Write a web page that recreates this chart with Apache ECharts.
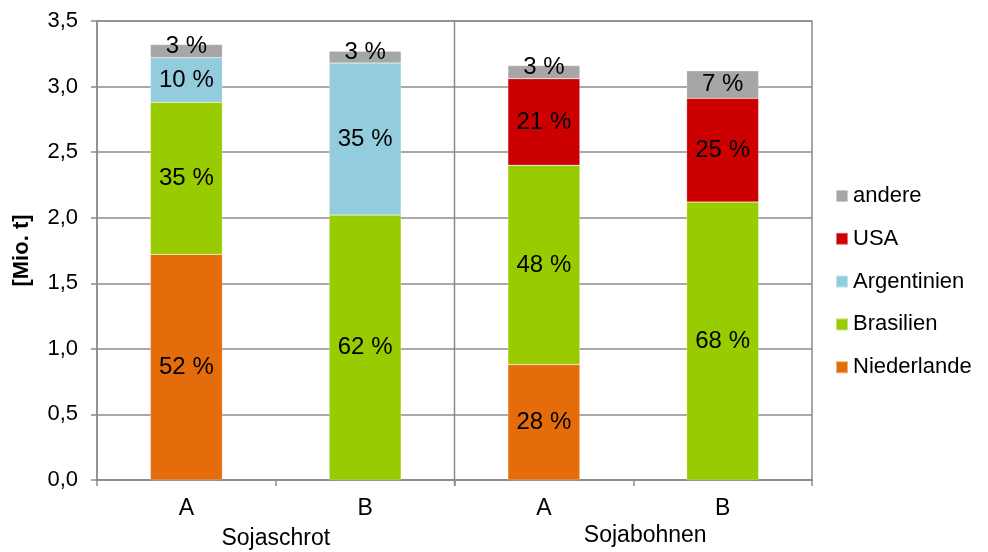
<!DOCTYPE html>
<html>
<head>
<meta charset="utf-8">
<script src="https://cdn.jsdelivr.net/npm/echarts@6/dist/echarts.min.js"></script>
<style>
  html, body { margin: 0; padding: 0; background: #fff; }
  #chart { width: 988px; height: 552px; }
</style>
</head>
<body>
<div id="chart"></div>
<script>
// Bars: A/B within each product group
const categories = ['A', 'B', 'A', 'B'];
const groups = ['Sojaschrot', 'Sojabohnen'];

// Import volumes in Mio. t by country of origin
const niederlande = [1.72, 0, 0.88, 0];
const brasilien   = [1.16, 2.02, 1.52, 2.12];
const argentinien = [0.34, 1.16, 0, 0];
const usa         = [0, 0, 0.66, 0.79];
const andere      = [0.10, 0.09, 0.10, 0.21];

const yTicks = { min: 0, max: 3.5, interval: 0.5 };

const seriesDefs = [
  { name: 'Niederlande', data: niederlande, color: '#E46C0A' },
  { name: 'Brasilien',   data: brasilien,   color: '#99CC00' },
  { name: 'Argentinien', data: argentinien, color: '#93CDDD' },
  { name: 'USA',         data: usa,         color: '#CC0000' },
  { name: 'andere',      data: andere,      color: '#A6A6A6' }
];

// Stack totals, used for the share labels
const totals = categories.map((_, i) =>
  seriesDefs.reduce((s, d) => s + (d.data[i] || 0), 0));

const font = '"Liberation Sans", Arial, sans-serif';
const axisGray = '#8c8c8c';

// Segments too thin for their label keep it resting on the segment's base
const thinSegment = 0.15;

const chart = echarts.init(document.getElementById('chart'), null, { renderer: 'canvas' });

chart.setOption({
  animation: false,
  textStyle: { fontFamily: font },
  grid: {
    left: 97, right: 176, top: 21, bottom: 72,
    show: true, borderColor: axisGray, borderWidth: 1.5
  },
  legend: {
    orient: 'vertical',
    left: 835, top: 185,
    padding: 0,
    itemWidth: 12, itemHeight: 12, itemGap: 20.8,
    icon: 'rect',
    data: ['andere', 'USA', 'Argentinien', 'Brasilien', 'Niederlande'],
    textStyle: { fontSize: 22, lineHeight: 22, color: '#000', fontFamily: font }
  },
  xAxis: {
    type: 'category',
    data: categories,
    axisLine: { lineStyle: { color: axisGray, width: 1.5 } },
    axisTick: { show: true, length: 6, interval: 0, lineStyle: { color: axisGray, width: 1.5 } },
    axisLabel: { fontSize: 23, color: '#000', margin: 17, fontFamily: font }
  },
  yAxis: {
    type: 'value',
    min: yTicks.min, max: yTicks.max, interval: yTicks.interval,
    name: '[Mio. t]',
    nameLocation: 'middle',
    nameGap: 64,
    nameTextStyle: { fontSize: 22, fontWeight: 'bold', color: '#000', fontFamily: font },
    axisLine: { show: true, lineStyle: { color: axisGray, width: 1.5 } },
    axisTick: { show: true, length: 6, lineStyle: { color: axisGray, width: 1.5 } },
    splitLine: { lineStyle: { color: axisGray, width: 1.5 } },
    axisLabel: {
      fontSize: 22, color: '#000', margin: 19, fontFamily: font,
      formatter: v => v.toFixed(1).replace('.', ',')
    }
  },
  series: seriesDefs.map(d => ({
    name: d.name,
    type: 'bar',
    stack: 'total',
    barWidth: 72,
    data: d.data.map(v => {
      if (!v) return null;
      if (v < thinSegment) return { value: v, label: { position: 'insideBottom', distance: -1 } };
      return v;
    }),
    itemStyle: { color: d.color, borderColor: 'rgba(255,255,255,0.45)', borderWidth: 0.5 },
    label: {
      show: true,
      position: 'inside',
      fontSize: 24,
      color: '#000',
      fontFamily: font,
      formatter: p => p.value ? Math.round(p.value / totals[p.dataIndex] * 100) + ' %' : ''
    }
  }))
});

// Group separator and group captions below the category labels
function drawGroups() {
  const c0 = chart.convertToPixel({ xAxisIndex: 0 }, 0);
  const c1 = chart.convertToPixel({ xAxisIndex: 0 }, 1);
  const c2 = chart.convertToPixel({ xAxisIndex: 0 }, 2);
  const c3 = chart.convertToPixel({ xAxisIndex: 0 }, 3);
  const top = chart.convertToPixel({ yAxisIndex: 0 }, yTicks.max);
  const bottom = chart.convertToPixel({ yAxisIndex: 0 }, yTicks.min);
  const sepX = (c1 + c2) / 2;
  chart.setOption({
    graphic: [
      {
        type: 'line',
        shape: { x1: sepX, y1: top, x2: sepX, y2: bottom + 6 },
        style: { stroke: axisGray, lineWidth: 1.5 },
        z: 5
      },
      {
        type: 'text',
        x: (c0 + c1) / 2, y: bottom + 59,
        style: { text: groups[0], fontSize: 23, fill: '#000', fontFamily: font, align: 'center', verticalAlign: 'middle' }
      },
      {
        type: 'text',
        x: (c2 + c3) / 2 + 12, y: bottom + 56,
        style: { text: groups[1], fontSize: 23, fill: '#000', fontFamily: font, align: 'center', verticalAlign: 'middle' }
      }
    ]
  });
}
drawGroups();
</script>
</body>
</html>
